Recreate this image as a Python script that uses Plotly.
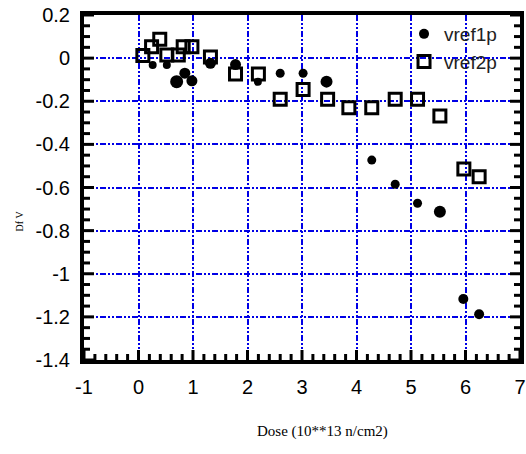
import plotly.graph_objects as go

# vref1p: shift vs dose (filled markers)
dose_1p = [0.26, 0.52, 0.70, 0.85, 0.98, 1.32, 1.78, 2.19, 2.60, 3.02, 3.45,
           4.28, 4.71, 5.12, 5.53, 5.96, 6.25]
shift_1p = [-0.032, -0.032, -0.109, -0.070, -0.105, -0.024, -0.030, -0.110,
            -0.070, -0.070, -0.109, -0.473, -0.585, -0.673, -0.712, -1.117, -1.188]
size_1p = [8, 8, 13, 11, 11, 11, 11, 8, 9, 9, 12, 9, 9, 9, 12, 10, 10]

# vref2p: shift vs dose (open squares)
dose_2p = [0.08, 0.24, 0.39, 0.52, 0.73, 0.82, 0.98, 1.32, 1.78, 2.20, 2.60,
           3.02, 3.47, 3.86, 4.28, 4.71, 5.12, 5.53, 5.97, 6.25]
shift_2p = [0.012, 0.053, 0.087, 0.015, 0.015, 0.053, 0.053, 0.005, -0.074,
            -0.074, -0.191, -0.145, -0.191, -0.230, -0.230, -0.191, -0.191,
            -0.268, -0.514, -0.550]

x_ticks = [-1, 0, 1, 2, 3, 4, 5, 6, 7]
x_tick_text = ["-1", "0", "1", "2", "3", "4", "5", "6", "7"]
y_ticks = [0.2, 0, -0.2, -0.4, -0.6, -0.8, -1, -1.2, -1.4]
y_tick_text = ["0.2", "0", "-0.2", "-0.4", "-0.6", "-0.8", "-1", "-1.2", "-1.4"]

# minor tick positions: every 0.2 on x, every 0.05 on y
x_minor = [round(-1 + 0.2 * i, 2) for i in range(41) if i % 5]
y_minor = [round(-1.4 + 0.05 * i, 2) for i in range(33) if i % 4]

X_RANGE = [-1, 7]
Y_RANGE = [-1.4, 0.2]
PLOT_W, PLOT_H = 436, 345          # plot area in pixels
MAJOR_LEN, MINOR_LEN = 10, 6       # inward tick lengths in pixels

sans = "Liberation Sans, Arial, sans-serif"
serif = "Liberation Serif, Times New Roman, serif"
grid_blue = "#0000e6"
grid_dash = "6px,2px,2px,2px,2px,2px"

fig = go.Figure()
fig.add_trace(go.Scatter(
    x=dose_1p, y=shift_1p, mode="markers", name="vref1p",
    marker=dict(symbol="circle", color="black", size=size_1p, opacity=1,
                line=dict(width=0)),
))
fig.add_trace(go.Scatter(
    x=dose_2p, y=shift_2p, mode="markers", name="vref2p",
    marker=dict(symbol="square-open", color="black", size=12, opacity=1,
                line=dict(width=3, color="black")),
))

# inward tick marks on bottom, left and right axes, built as line segments
px_x = (X_RANGE[1] - X_RANGE[0]) / PLOT_W
px_y = (Y_RANGE[1] - Y_RANGE[0]) / PLOT_H
tx, ty = [], []
for vals, n in ((x_ticks, MAJOR_LEN), (x_minor, MINOR_LEN)):
    for v in vals:
        tx += [v, v, None]
        ty += [Y_RANGE[0], Y_RANGE[0] + n * px_y, None]
for vals, n in ((y_ticks, MAJOR_LEN), (y_minor, MINOR_LEN)):
    for v in vals:
        tx += [X_RANGE[0], X_RANGE[0] + n * px_x, None]
        ty += [v, v, None]
        tx += [X_RANGE[1], X_RANGE[1] - n * px_x, None]
        ty += [v, v, None]
fig.add_trace(go.Scatter(
    x=tx, y=ty, mode="lines", line=dict(color="black", width=3),
    showlegend=False, hoverinfo="skip", cliponaxis=False,
))

tick_font = dict(family=sans, size=20, color="black")

fig.update_layout(
    template="none",
    width=526, height=454,
    margin=dict(l=84, r=6, t=15, b=94),
    paper_bgcolor="white", plot_bgcolor="white",
    showlegend=True,
    legend=dict(x=0.734, y=1.0, xanchor="left", yanchor="top",
                bgcolor="rgba(0,0,0,0)", borderwidth=0,
                font=dict(family=sans, size=19, color="#222"),
                tracegroupgap=0),
    xaxis=dict(
        range=X_RANGE, tickmode="array", tickvals=x_ticks,
        ticktext=x_tick_text, ticks="",
        mirror=True, showline=True, linewidth=4, linecolor="black",
        showgrid=True, gridcolor=grid_blue, gridwidth=2, griddash=grid_dash,
        zeroline=False, tickfont=tick_font, ticklabelstandoff=6,
    ),
    yaxis=dict(
        range=Y_RANGE, tickmode="array", tickvals=y_ticks,
        ticktext=y_tick_text, ticks="",
        mirror=True, showline=True, linewidth=4, linecolor="black",
        showgrid=True, gridcolor=grid_blue, gridwidth=2, griddash=grid_dash,
        zeroline=False, tickfont=tick_font, ticklabelstandoff=6,
    ),
)

fig.add_annotation(
    text="Dose (10**13 n/cm2)", xref="paper", yref="paper",
    x=0.546, y=-0.238, showarrow=False,
    font=dict(family=serif, size=15, color="black"),
)
fig.add_annotation(
    text="Df V", xref="paper", yref="paper",
    x=-0.163, y=0.403, showarrow=False, textangle=-90,
    font=dict(family=serif, size=10, color="black"),
)

fig.write_html("out.html")
